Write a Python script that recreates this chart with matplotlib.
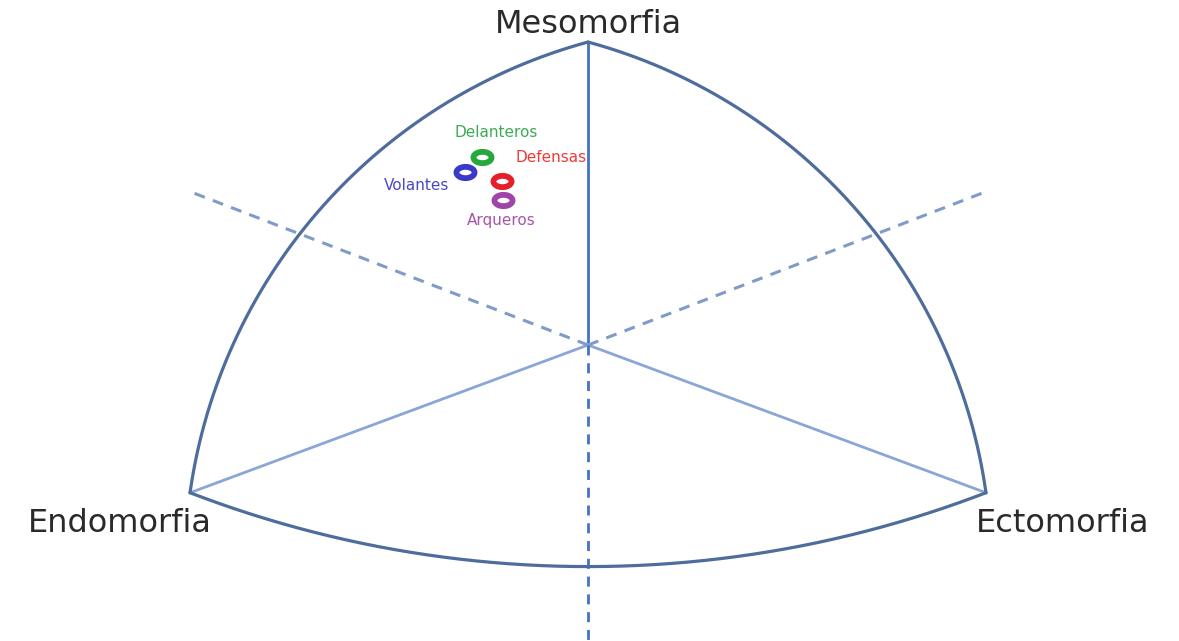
import numpy as np
import matplotlib.pyplot as plt
from matplotlib.path import Path

# somatochart coordinates (X = ecto - endo, Y = 2*meso - (endo + ecto))
groups = ['Delanteros', 'Volantes', 'Defensas', 'Arqueros']
x_vals = [-2.14, -2.47, -1.73, -1.71]
y_vals = [9.91, 9.15, 8.67, 7.66]
colors = ['#27A83A', '#3A3AC8', '#E5202A', '#A045A8']
text_colors = ['#3DAA55', '#4A4AC4', '#F03A3A', '#A855A8']
label_offsets = [(15, 25), (-49, -14), (49, 23), (-2, -21)]  # pixels

axis_names = ['Mesomorfia', 'Endomorfia', 'Ectomorfia']
vertices = [(0, 16), (-8, -7.8), (8, -7.8)]


def circle_through(ax, p0, p1, p2, n=200):
    # circular arc (in screen space) through three data points
    tr = ax.transData
    a, b, c = tr.transform([p0, p1, p2])
    d = 2 * (a[0] * (b[1] - c[1]) + b[0] * (c[1] - a[1]) + c[0] * (a[1] - b[1]))
    ux = ((a @ a) * (b[1] - c[1]) + (b @ b) * (c[1] - a[1]) + (c @ c) * (a[1] - b[1])) / d
    uy = ((a @ a) * (c[0] - b[0]) + (b @ b) * (a[0] - c[0]) + (c @ c) * (b[0] - a[0])) / d
    r = np.hypot(a[0] - ux, a[1] - uy)
    t0 = np.arctan2(a[1] - uy, a[0] - ux)
    t1 = np.arctan2(b[1] - uy, b[0] - ux)
    t2 = np.arctan2(c[1] - uy, c[0] - ux)

    def unwrap(t, ref):
        while t < ref:
            t += 2 * np.pi
        return t
    t1u = unwrap(t1, t0)
    t2u = unwrap(t2, t0)
    if t1u > t2u:
        t2u -= 2 * np.pi
    ts = np.linspace(t0, t2u, n)
    pts = np.column_stack([ux + r * np.cos(ts), uy + r * np.sin(ts)])
    return tr.inverted().transform(pts)


# flattened ring marker (the original picture is stretched sideways)
th = np.linspace(0, 2 * np.pi, 60)
ring = Path(np.column_stack([1.6 * np.cos(th), np.sin(th)]), closed=True)

fig = plt.figure(figsize=(11.79, 6.41), dpi=100)
ax = fig.add_axes([0, 0, 1, 1])
ax.set_xlim(-11.82, 11.88)
ax.set_ylim(-15.63, 18.22)
ax.axis('off')

meso, endo, ecto = vertices
frame_col = '#4E6C9C'
arcs = [
    (meso, (-5.8, 5.85), endo),
    (endo, (0, -11.7), ecto),
    (ecto, (5.8, 5.85), meso),
]
for p0, pm, p2 in arcs:
    pts = circle_through(ax, p0, pm, p2)
    ax.plot(pts[:, 0], pts[:, 1], color=frame_col, lw=2.3, solid_capstyle='round', zorder=2)

# internal axes
ax.plot([0, 0], [0, meso[1]], color='#4472C4', lw=2, zorder=1)
ax.plot([0, endo[0]], [0, endo[1]], color='#8AA6D6', lw=2, zorder=1)
ax.plot([0, ecto[0]], [0, ecto[1]], color='#8AA6D6', lw=2, zorder=1)
ax.plot([0, -8], [0, 8.1], color='#7F9BC8', lw=2.2, ls=(0, (3.6, 2.8)), zorder=1)
ax.plot([0, 8], [0, 8.1], color='#7F9BC8', lw=2.2, ls=(0, (3.6, 2.8)), zorder=1)
ax.plot([0, 0], [0, -15.63], color='#4472C4', lw=2, ls=(0, (3.6, 2.8)), zorder=1)

# axis names
ax.text(0, 16.9, axis_names[0], ha='center', va='center', fontsize=23,
        family='DejaVu Sans', color='#2A2A2A')
ax.text(-9.41, -9.4, axis_names[1], ha='center', va='center', fontsize=23,
        family='DejaVu Sans', color='#2A2A2A')
ax.text(9.55, -9.4, axis_names[2], ha='center', va='center', fontsize=23,
        family='DejaVu Sans', color='#2A2A2A')

# group means
for g, x, y, c, tc, off in zip(groups, x_vals, y_vals, colors, text_colors, label_offsets):
    ax.plot(x, y, marker=ring, ms=13, mfc='white', mec=c, mew=4.2, zorder=5)
    ax.annotate(g, (x, y), xytext=off, textcoords='offset pixels',
                ha='center', va='center', fontsize=11, family='DejaVu Sans', color=tc)

fig.savefig('out.png', dpi=100)
